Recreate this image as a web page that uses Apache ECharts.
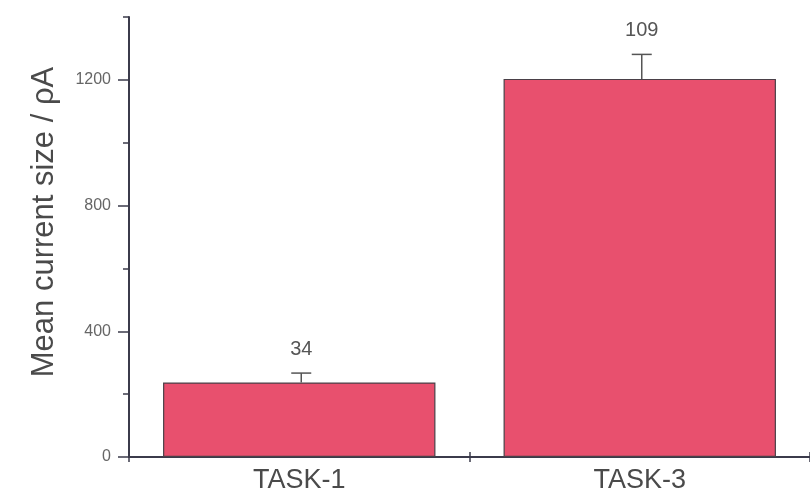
<!DOCTYPE html>
<html>
<head>
<meta charset="utf-8">
<script src="https://cdn.jsdelivr.net/npm/echarts@6/dist/echarts.min.js"></script>
<style>
  html, body { margin: 0; padding: 0; background: #fff; }
  #chart { width: 810px; height: 499px; }
</style>
</head>
<body>
<div id="chart"></div>
<script>
// Mean whole-cell current per channel, with SEM and number of cells
const categories = ['TASK-1', 'TASK-3'];
const meanCurrent = [237, 1203];
const semValues = [30, 78];
const cellCounts = ['34', '109'];
const majorTicks = [0, 400, 800, 1200];

const axisColor = '#3b3b4b';
const textColor = '#555';
const fontFamily = 'Liberation Sans, Arial, sans-serif';

const chart = echarts.init(document.getElementById('chart'), null, { renderer: 'canvas' });

chart.setOption({
  animation: false,
  backgroundColor: '#fff',
  grid: { left: 129, right: -1, top: 17, bottom: 42, containLabel: false },
  xAxis: [
    {
      type: 'category',
      data: categories,
      boundaryGap: true,
      axisLine: { lineStyle: { color: axisColor, width: 2 } },
      axisTick: { show: true, alignWithLabel: false, length: 5, lineStyle: { color: axisColor, width: 1.5 } },
      axisLabel: { color: '#4a4a4a', fontSize: 27, fontFamily: fontFamily, margin: 10 }
    },
    {
      type: 'category',
      data: categories,
      position: 'bottom',
      boundaryGap: true,
      axisLine: { show: false },
      axisTick: { show: true, inside: true, alignWithLabel: false, length: 5, lineStyle: { color: axisColor, width: 1.5 } },
      axisLabel: { show: false }
    }
  ],
  yAxis: [
    {
      type: 'value',
      min: 0,
      max: 1400,
      interval: 200,
      name: 'Mean current size / \u03c1A',
      nameLocation: 'middle',
      nameGap: 69,
      nameTextStyle: { color: '#4a4a4a', fontSize: 31, fontFamily: fontFamily, padding: [0, 0, 0, 30] },
      axisLine: { show: true, lineStyle: { color: axisColor, width: 2 } },
      axisTick: { show: true, length: 6, lineStyle: { color: axisColor, width: 1.5 } },
      axisLabel: { show: false },
      splitLine: { show: false }
    },
    {
      type: 'value',
      min: 0,
      max: 1400,
      interval: 200,
      position: 'left',
      axisLine: { show: false },
      axisTick: { show: true, length: 11, customValues: majorTicks, lineStyle: { color: axisColor, width: 1.5 } },
      axisLabel: {
        show: true, customValues: majorTicks, color: '#666', fontSize: 16,
        fontFamily: fontFamily, margin: 18,
        formatter: function (v) { return String(v); }
      },
      splitLine: { show: false }
    }
  ],
  series: [
    {
      type: 'bar',
      data: meanCurrent,
      barWidth: '80%',
      itemStyle: { color: '#e8506e', borderColor: '#4a4048', borderWidth: 1.2 },
      z: 2
    },
    {
      type: 'custom',
      z: 3,
      data: categories.map((c, i) => [i, meanCurrent[i], semValues[i], cellCounts[i]]),
      renderItem: function (params, api) {
        const idx = api.value(0);
        const base = api.coord([idx, api.value(1)]);
        const top = api.coord([idx, api.value(1) + api.value(2)]);
        const x = base[0] + 2;
        const half = 10;
        return {
          type: 'group',
          children: [
            { type: 'line', shape: { x1: x, y1: base[1], x2: x, y2: top[1] },
              style: { stroke: '#555', lineWidth: 1.5 } },
            { type: 'line', shape: { x1: x - half, y1: top[1], x2: x + half, y2: top[1] },
              style: { stroke: '#555', lineWidth: 1.5 } },
            { type: 'text', x: x, y: top[1] - 24,
              style: { text: cellCounts[idx], fill: textColor, font: '20px ' + fontFamily,
                       textAlign: 'center', textVerticalAlign: 'middle' } }
          ]
        };
      }
    }
  ]
});
</script>
</body>
</html>
